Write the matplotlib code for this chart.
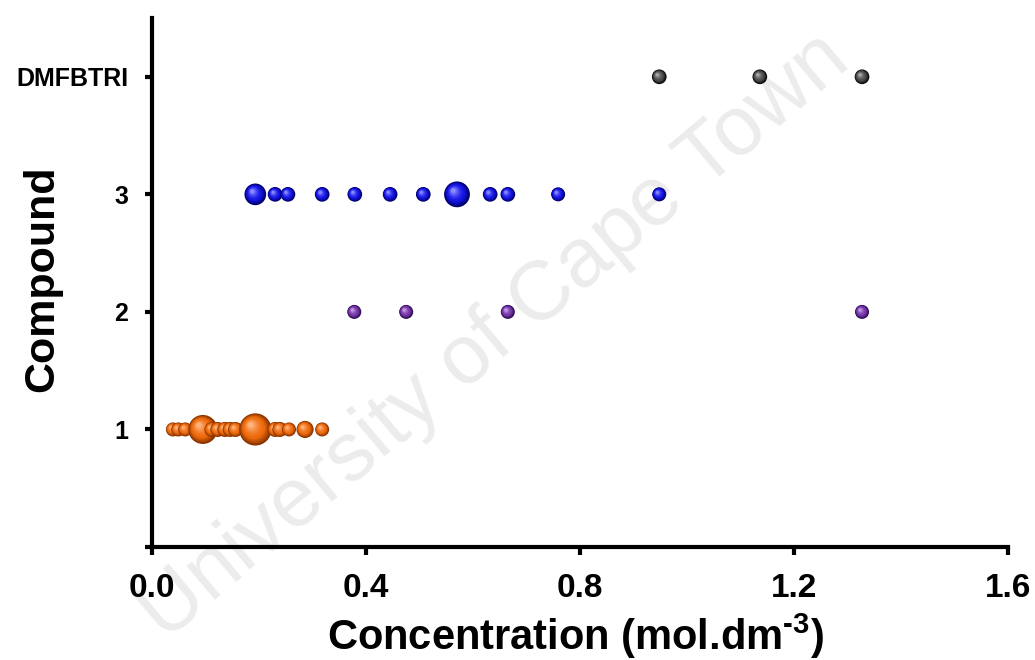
import matplotlib
matplotlib.use("Agg")
import matplotlib.pyplot as plt
import matplotlib.transforms as mtransforms
import numpy as np
from matplotlib.colors import to_rgb

plt.rcParams['font.family'] = ['Liberation Sans', 'DejaVu Sans']
plt.rcParams['mathtext.fontset'] = 'custom'
plt.rcParams['mathtext.rm'] = 'Liberation Sans:bold'
plt.rcParams['mathtext.bf'] = 'Liberation Sans:bold'
plt.rcParams['mathtext.default'] = 'bf'

# ---------------- data ----------------
ytick_positions = [1, 2, 3, 4]
ytick_labels = ["1", "2", "3", "DMFBTRI"]
xtick_values = [0.0, 0.4, 0.8, 1.2, 1.6]

c1_conc = [0.039, 0.049, 0.062, 0.095, 0.112, 0.123, 0.136, 0.146, 0.156,
           0.193, 0.230, 0.239, 0.256, 0.286, 0.318]
c1_bubble = [1.0, 1.0, 1.0, 4.3, 1.15, 1.15, 1.15, 1.15, 1.15,
             5.3, 1.15, 1.15, 1.0, 1.5, 1.0]

c2_conc = [0.378, 0.475, 0.665, 1.327]
c2_bubble = [1.0, 1.0, 1.0, 1.0]

c3_conc = [0.193, 0.230, 0.254, 0.318, 0.379, 0.445, 0.507, 0.570, 0.632,
           0.665, 0.759, 0.948]
c3_bubble = [2.4, 1.1, 1.1, 1.1, 1.1, 1.1, 1.1, 3.4, 1.1, 1.1, 1.0, 1.0]

c4_conc = [0.948, 1.136, 1.327]
c4_bubble = [1.1, 1.1, 1.1]

# ---------------- figure ----------------
fig = plt.figure(figsize=(10.35, 6.6), dpi=100)
ax = fig.add_axes([0.1469, 0.1712, 0.8271, 0.8015])

# watermark (behind everything)
ax.text(0.478, 0.49, "University of Cape Town", fontsize=60,
        family="Liberation Sans", color="#ececec", rotation=40,
        ha="center", va="center", zorder=0, transform=fig.transFigure,
        clip_on=False)

BASE_AREA = (14 * 0.72) ** 2  # points^2 for bubble value 1


def mix(c1, c2, t):
    a = np.array(to_rgb(c1)); b = np.array(to_rgb(c2))
    return tuple(a + (b - a) * t)


def spheres(ax, xs, yval, bubbles, dark, base, light):
    nlay = 10
    for x, b in zip(xs, bubbles):
        area = b * BASE_AREA
        diam = np.sqrt(area)
        for k in range(nlay):
            t = k / (nlay - 1)
            r = 1.0 - 0.82 * t
            if t < 0.35:
                col = mix(dark, base, t / 0.35)
            else:
                col = mix(base, light, ((t - 0.35) / 0.65) ** 1.6)
            off = 0.28 * t * diam / 2
            tr = mtransforms.offset_copy(ax.transData, fig=fig,
                                         x=-off, y=off, units="points")
            ax.scatter([x], [yval], s=area * r * r, color=col,
                       edgecolors="none", transform=tr, zorder=3)


spheres(ax, c1_conc, 1, c1_bubble, "#8a3400", "#ee6a0c", "#ffb27a")
spheres(ax, c2_conc, 2, c2_bubble, "#2e0c52", "#7434a6", "#c39ae6")
spheres(ax, c3_conc, 3, c3_bubble, "#00006a", "#1414e6", "#8a8aff")
spheres(ax, c4_conc, 4, c4_bubble, "#0a0a0a", "#4a4a4a", "#a8a8a8")

ax.set_xlim(0, 1.6)
ax.set_ylim(0, 4.5)
ax.set_xticks(xtick_values)
ax.set_xticklabels([f"{v:.1f}" for v in xtick_values])
ax.set_yticks([0] + ytick_positions)
ax.set_yticklabels([""] + ytick_labels)

for s in ["top", "right"]:
    ax.spines[s].set_visible(False)
for s in ["left", "bottom"]:
    ax.spines[s].set_linewidth(3)
    ax.spines[s].set_zorder(4)
ax.patch.set_alpha(0)

ax.tick_params(axis="x", direction="out", length=6, width=3, pad=13,
               labelsize=24)
ax.tick_params(axis="y", direction="out", length=5, width=3, pad=12,
               labelsize=18)
for lab in ax.get_xticklabels() + ax.get_yticklabels():
    lab.set_fontweight("bold")

ax.set_xlabel("Concentration (mol.dm$^{\\text{-3}}$)", fontsize=30,
              fontweight="bold")
ax.set_ylabel("Compound", fontsize=31, fontweight="bold")
ax.xaxis.set_label_coords(0.495, -0.168)
ax.yaxis.set_label_coords(-0.1285, 0.508)
ax.xaxis.label.set_va("center")
ax.yaxis.label.set_va("center")

fig.savefig("out.png", dpi=100)
